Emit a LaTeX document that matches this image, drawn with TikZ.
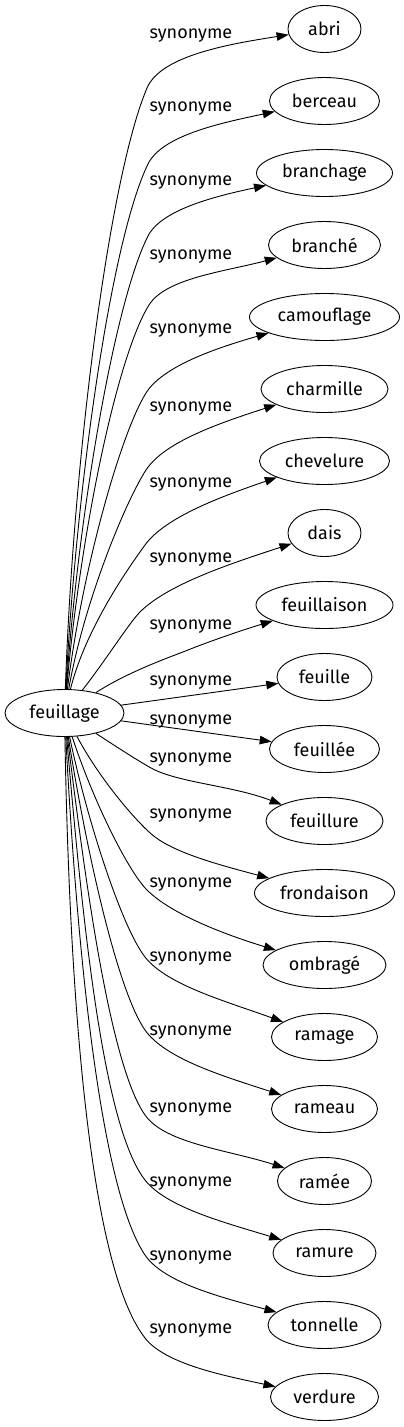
\documentclass[tikz,border=0pt]{standalone}
\usepackage{fontspec}
\setmainfont{Fira Sans}
\usetikzlibrary{shapes.geometric,arrows.meta}

\tikzset{
  word/.style={draw, ellipse, inner sep=0pt, minimum height=47pt, line width=0.9pt, font=\fontsize{18}{21}\selectfont},
  rel/.style={inner sep=0pt, anchor=base, font=\fontsize{18}{21}\selectfont},
  syn/.style={line width=0.9pt, -{Triangle[length=12pt,width=8.5pt]}},
}

\begin{document}
\begin{tikzpicture}[x=1pt, y=1pt]
  \useasboundingbox (0,0) rectangle (404,-1427);

  % the headword
  \node [word, minimum width=119pt, name=feuillage] at (64.5,-713) {feuillage};

  % its synonyms, one row each
  \foreach \name/\txt/\w [count=\i from 0] in {abri/abri/73, berceau/berceau/110,
      branchage/branchage/136, branche/branché/112, camouflage/camouflage/150,
      charmille/charmille/127, chevelure/chevelure/130, dais/dais/73,
      feuillaison/feuillaison/137, feuille/feuille/95, feuillee/feuillée/110,
      feuillure/feuillure/117, frondaison/frondaison/140, ombrage/ombragé/123,
      ramage/ramage/106, rameau/rameau/106, ramee/ramée/94, ramure/ramure/103,
      tonnelle/tonnelle/113, verdure/verdure/108}
    \node [word, minimum width=\w pt, name=\name] at (324.5,{-29-72*\i}) {\txt};

  % curved edges: headword -> bend -> synonym
  \foreach \name/\os/\kx/\ky/\ka/\ta in {abri/88/147/88/67/9, berceau/87/148/164/64/12,
      branchage/86/148/236/63/12, branche/85/149/305/58/15, camouflage/83/146/393/58/16,
      charmille/80/146/470/57/18, chevelure/76/145/545/54/19, dais/52/140/612/45/18,
      feuillaison/33/188/650/22/17, feuillure/-33/155/770/-25/-21,
      frondaison/-62/155/837/-37/-15, ombrage/-72/147/890/-45/-17,
      ramage/-78/145/957/-52/-20, rameau/-81/145/1030/-55/-18, ramee/-83/145/1115/-55/-18,
      ramure/-85/145/1180/-52/-17, tonnelle/-87/145/1255/-56/-15, verdure/-89/145/1338/-52/-12}
  {
    \pgfmathsetmacro\kin{\ka+180}
    \pgfmathsetmacro\tin{\ta+180}
    \coordinate (bend-\name) at (\kx,-\ky);
    \draw [syn] (feuillage) to [out=\os, in=\kin, in looseness=0.4] (bend-\name)
      to [out=\ka, in=\tin, out looseness=0.6] (\name);
  }
  \draw [syn] (feuillage) -- (feuille);
  \draw [syn] (feuillage) -- (feuillee);

  % edge labels
  \foreach \ly [count=\i from 0] in {33,106,180,254,328,406,482,557,624,680,
      719,757,813,882,956,1030,1107,1181,1255,1328}
    \node [rel, name=syn\i] at (191,{-\ly-5}) {synonyme};
\end{tikzpicture}
\end{document}
